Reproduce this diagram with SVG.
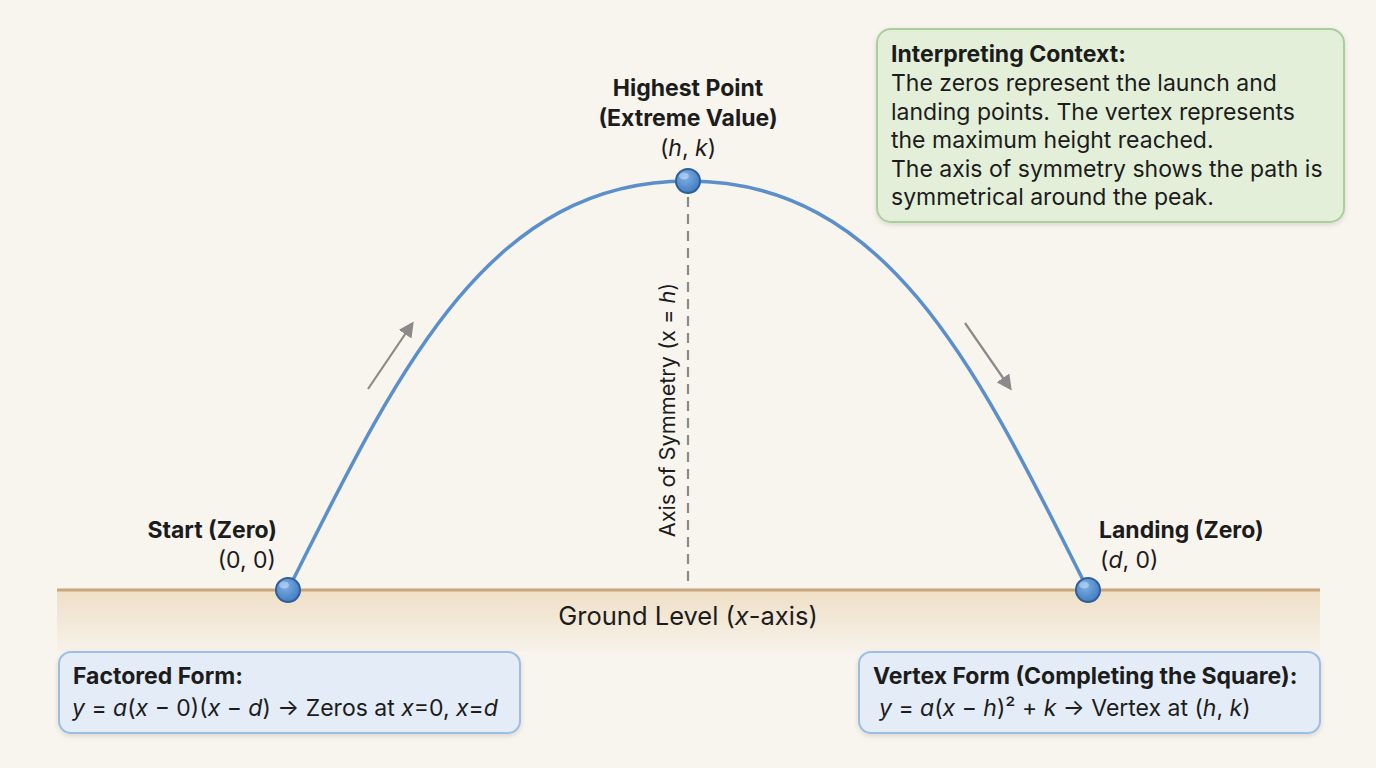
<svg xmlns="http://www.w3.org/2000/svg" width="1376" height="768" viewBox="0 0 1376 768">
<defs>
<style>
text{font-family:Inter,"Noto Sans","Liberation Sans",sans-serif;fill:#1c1c1c}
.b{font-weight:700}
.t{font-size:23px}
.i{font-style:italic}
.curve{fill:none;stroke:#5b8fcb;stroke-width:3.5;stroke-linecap:round}
.dot{fill:url(#dotg);stroke:#2e5f9c;stroke-width:2}
.hl{fill:#ffffff;opacity:0.35}
.dir{stroke:#8a8a8a;stroke-width:2.2;fill:none}
</style>
<radialGradient id="dotg" cx="0.4" cy="0.35" r="0.7">
<stop offset="0" stop-color="#7fb0e6"/>
<stop offset="1" stop-color="#3f78be"/>
</radialGradient>
<linearGradient id="ground" x1="0" y1="0" x2="0" y2="1">
<stop offset="0" stop-color="#efdfc6"/>
<stop offset="1" stop-color="#f7f2ea"/>
</linearGradient>
<marker id="ah" viewBox="0 0 10 10" refX="8" refY="5" markerWidth="7" markerHeight="7" orient="auto" markerUnits="strokeWidth">
<path d="M0,0 L10,5 L0,10 z" fill="#8a8a8a"/>
</marker>
<filter id="sh" x="-5%" y="-10%" width="110%" height="130%">
<feDropShadow dx="0" dy="2" stdDeviation="2.5" flood-color="#000" flood-opacity="0.12"/>
</filter>
</defs>
<rect width="1376" height="768" fill="#f8f4ee"/>

<g id="ground-level">
<rect x="57" y="590" width="1263" height="62" fill="url(#ground)"/>
<line x1="57" y1="590" x2="1320" y2="590" stroke="#c9a67c" stroke-width="3"/>
<text x="688" y="625" font-size="25.5" text-anchor="middle">Ground Level (<tspan class="i">x</tspan>-axis)</text>
</g>

<g id="connectors">
<line x1="688" y1="197" x2="688" y2="586" stroke="#8a8a8a" stroke-width="2.2" stroke-dasharray="10 7"/>
<path class="curve" d="M288,590 C398,370 488,181 688,181 C888,181 978,370 1088,590"/>
<line class="dir" x1="368" y1="389" x2="412" y2="324" marker-end="url(#ah)"/>
<line class="dir" x1="965" y1="323" x2="1010" y2="388" marker-end="url(#ah)"/>
</g>

<g id="axis-label">
<text transform="translate(675,410) rotate(-90)" x="0" y="0" font-size="21.7" text-anchor="middle">Axis of Symmetry (x = <tspan class="i">h</tspan>)</text>
</g>

<g id="vertex">
<circle class="dot" cx="688" cy="181" r="12"/>
<ellipse class="hl" cx="684" cy="176" rx="5" ry="3.5"/>
<text x="688" y="96" class="t b" text-anchor="middle">Highest Point</text>
<text x="688" y="126" class="t b" text-anchor="middle">(Extreme Value)</text>
<text x="688" y="156" class="t" text-anchor="middle">(<tspan class="i">h</tspan>, <tspan class="i">k</tspan>)</text>
</g>

<g id="start">
<circle class="dot" cx="288" cy="590" r="12"/>
<ellipse class="hl" cx="284" cy="585" rx="5" ry="3.5"/>
<text x="277" y="538" class="t b" text-anchor="end">Start (Zero)</text>
<text x="276" y="568" class="t" text-anchor="end">(0, 0)</text>
</g>

<g id="landing">
<circle class="dot" cx="1088" cy="590" r="12"/>
<ellipse class="hl" cx="1084" cy="585" rx="5" ry="3.5"/>
<text x="1099" y="538" class="t b">Landing (Zero)</text>
<text x="1100" y="568" class="t">(<tspan class="i">d</tspan>, 0)</text>
</g>

<g id="context-box">
<rect x="877" y="29" width="467" height="193" rx="14" fill="#e3efd9" stroke="#a9cf9c" stroke-width="2" filter="url(#sh)"/>
<text x="891" y="62" class="t b">Interpreting Context:</text>
<text x="891" y="91" class="t">The zeros represent the launch and</text>
<text x="891" y="120" class="t">landing points. The vertex represents</text>
<text x="891" y="148" class="t">the maximum height reached.</text>
<text x="891" y="177" class="t">The axis of symmetry shows the path is</text>
<text x="891" y="205" class="t">symmetrical around the peak.</text>
</g>

<g id="factored-box">
<rect x="59" y="652" width="461" height="81" rx="12" fill="#e3ecf7" stroke="#9fbde2" stroke-width="2" filter="url(#sh)"/>
<text x="73" y="684" class="t b">Factored Form:</text>
<text x="72" y="716" class="t"><tspan class="i">y</tspan> = <tspan class="i">a</tspan>(<tspan class="i">x</tspan> − 0)(<tspan class="i">x</tspan> − <tspan class="i">d</tspan>) → Zeros at <tspan class="i">x</tspan>=0, <tspan class="i">x</tspan>=<tspan class="i">d</tspan></text>
</g>

<g id="vertex-box">
<rect x="859" y="652" width="461" height="81" rx="12" fill="#e3ecf7" stroke="#9fbde2" stroke-width="2" filter="url(#sh)"/>
<text x="873" y="684" class="t b">Vertex Form (Completing the Square):</text>
<text x="879" y="716" class="t"><tspan class="i">y</tspan> = <tspan class="i">a</tspan>(<tspan class="i">x</tspan> − <tspan class="i">h</tspan>)² + <tspan class="i">k</tspan> → Vertex at (<tspan class="i">h</tspan>, <tspan class="i">k</tspan>)</text>
</g>
</svg>
